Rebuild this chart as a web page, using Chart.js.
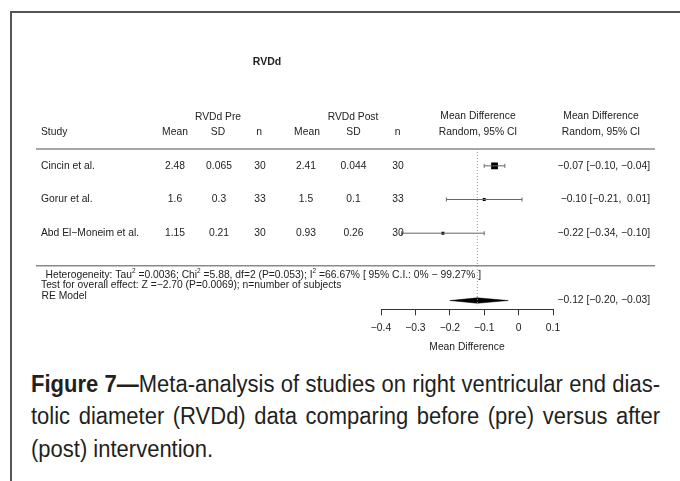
<!DOCTYPE html>
<html>
<head>
<meta charset="utf-8">
<script src="https://cdn.jsdelivr.net/npm/chart.js@4.4.1/dist/chart.umd.min.js"></script>
<style>
  html, body { margin: 0; padding: 0; background: #fff; width: 680px; height: 481px; overflow: hidden; }
  #frame { position: absolute; left: 10px; top: 11px; width: 700px; height: 500px;
           border-top: 2px solid #555; border-left: 2px solid #555; }
  #wrap { position: absolute; left: 0; top: 0; width: 680px; height: 362px; }
  /* condensed caption: regular sans squeezed horizontally */
  #caption { position: absolute; left: 31px; top: 367.5px; width: 657.6px;
             transform: scaleX(0.9565); transform-origin: 0 0;
             font-family: "Liberation Sans", Arial, sans-serif;
             font-size: 23px; line-height: 32.5px; color: #231f20; }
  #caption .j { text-align: justify; text-align-last: justify; }
  #caption b { font-weight: bold; }
</style>
</head>
<body>
<div id="frame"></div>
<div id="wrap"><canvas id="forest" width="680" height="362"></canvas></div>
<div id="caption">
  <div class="j"><b>Figure 7—</b>Meta-analysis of studies on right ventricular end dias-</div>
  <div class="j">tolic diameter (RVDd) data comparing before (pre) versus after</div>
  <div>(post) intervention.</div>
</div>
<script>
// ---- study data ----
const chartTitle = 'RVDd';
const studies   = ['Cincin et al.', 'Gorur et al.', 'Abd El\u2212Moneim et al.'];
const preMean   = [2.48, 1.6, 1.15];
const preSD     = [0.065, 0.3, 0.21];
const preN      = [30, 33, 30];
const postMean  = [2.41, 1.5, 0.93];
const postSD    = [0.044, 0.1, 0.26];
const postN     = [30, 33, 30];
const meanDiff  = [-0.07, -0.10, -0.22];
const ciLow     = [-0.10, -0.21, -0.34];
const ciHigh    = [-0.04, 0.01, -0.10];
const rowSlot   = [5, 4, 3];

// random-effects summary
const reEst  = -0.12;
const reLow  = -0.20;
const reHigh = -0.03;
const reSlot = 1;

const xTicks = [-0.4, -0.3, -0.2, -0.1, 0, 0.1];

const heterogeneityText = [
  ['Heterogeneity: Tau', false], ['2', true], [' =0.0036; Chi', false], ['2', true],
  [' =5.88, df=2 (P=0.053); I', false], ['2', true], [' =66.67% [ 95% C.I.: 0% \u2212 99.27% ]', false]
];
const overallText = 'Test for overall effect: Z =\u22122.70 (P=0.0069); n=number of subjects';
const reLabel = 'RE Model';

// ---- styling ----
const squareRadius = [4.8, 2.1, 2.1];
const FONT = '"Liberation Sans", Arial, Helvetica, sans-serif';
const INK = '#222';

const minus = s => s.replace(/-/g, '\u2212');
const fmt2 = v => (v < 0 ? '\u2212' : ' ') + Math.abs(v).toFixed(2);
const ciText = (m, lo, hi) => `${fmt2(m).trim()} [${fmt2(lo)}, ${fmt2(hi)}]`;

// ---- datasets ----
const datasets = [];

// dotted reference line at the summary estimate
datasets.push({
  type: 'line',
  data: [{ x: reEst, y: 5.5 }, { x: reEst, y: 0.85 }],
  borderColor: '#9a9a9a', borderWidth: 1, borderDash: [1, 2],
  pointRadius: 0, fill: false
});

// confidence intervals with end caps
studies.forEach((s, i) => {
  datasets.push({
    type: 'line',
    data: [{ x: ciLow[i], y: rowSlot[i] }, { x: ciHigh[i], y: rowSlot[i] }],
    borderColor: '#666', borderWidth: 1,
    pointStyle: 'line', pointRotation: 90, pointRadius: 2,
    pointBorderColor: '#666', pointBorderWidth: 1,
    fill: false
  });
});

// point estimates
datasets.push({
  type: 'scatter',
  data: meanDiff.map((m, i) => ({ x: m, y: rowSlot[i] })),
  pointStyle: 'rect', pointRadius: squareRadius,
  backgroundColor: '#000', borderColor: '#000', borderWidth: 0
});

// summary diamond
const dh = 0.08;
datasets.push({
  type: 'line',
  data: [
    { x: reLow, y: reSlot }, { x: reEst, y: reSlot + dh },
    { x: reHigh, y: reSlot }, { x: reEst, y: reSlot - dh }, { x: reLow, y: reSlot }
  ],
  borderColor: '#000', borderWidth: 0.5, backgroundColor: '#000',
  fill: 'shape', pointRadius: 0, tension: 0
});

// ---- table text around the plot ----
const tablePlugin = {
  id: 'forestTable',
  afterDraw(chart) {
    const { ctx, scales: { x, y } } = chart;
    const f = (size, bold) => `${bold ? 'bold ' : ''}${size}px ${FONT}`;
    ctx.save();
    ctx.fillStyle = INK;
    ctx.textBaseline = 'middle';

    // title
    ctx.textAlign = 'center';
    ctx.font = f(10.5, true);
    ctx.fillText(chartTitle, 267, 62);

    // column headers
    ctx.font = f(10.3);
    ctx.fillText('RVDd Pre', 218, 117);
    ctx.fillText('RVDd Post', 353, 117);
    ctx.fillText('Mean Difference', 478, 116);
    ctx.fillText('Mean Difference', 601, 116);
    ctx.fillText('Mean', 175, 132.5);
    ctx.fillText('SD', 218, 132.5);
    ctx.fillText('n', 259, 132.5);
    ctx.fillText('Mean', 307, 132.5);
    ctx.fillText('SD', 353.5, 132.5);
    ctx.fillText('n', 397.5, 132.5);
    ctx.fillText('Random, 95% CI', 478, 132);
    ctx.fillText('Random, 95% CI', 601, 132);
    ctx.textAlign = 'left';
    ctx.fillText('Study', 41, 132);

    // rules
    ctx.strokeStyle = '#8a8a8a';
    ctx.lineWidth = 1.5;
    const ruleTop = y.getPixelForValue(5.5);
    const ruleBot = y.getPixelForValue(2.03);
    [ruleTop, ruleBot].forEach(py => {
      ctx.beginPath(); ctx.moveTo(36, py); ctx.lineTo(655, py); ctx.stroke();
    });

    // study rows
    studies.forEach((s, i) => {
      const py = y.getPixelForValue(rowSlot[i]);
      ctx.textAlign = 'left';
      ctx.fillText(s, 41, py);
      ctx.textAlign = 'center';
      ctx.fillText(String(preMean[i]), 175, py);
      ctx.fillText(String(preSD[i]), 219, py);
      ctx.fillText(String(preN[i]), 260, py);
      ctx.fillText(String(postMean[i]), 306, py);
      ctx.fillText(String(postSD[i]), 353.5, py);
      ctx.fillText(String(postN[i]), 398, py);
      ctx.textAlign = 'right';
      ctx.fillText(ciText(meanDiff[i], ciLow[i], ciHigh[i]), 650, py);
    });

    // heterogeneity line with superscripts
    ctx.textAlign = 'left';
    let hx = 45.5;
    const hy = 275;
    heterogeneityText.forEach(([t, sup]) => {
      ctx.font = sup ? f(6.5) : f(10.3);
      ctx.fillText(t, hx, sup ? hy - 4 : hy);
      hx += ctx.measureText(t).width;
    });
    ctx.font = f(10.3);
    ctx.fillText(overallText, 41, 285.5);
    ctx.fillText(reLabel, 41.5, 296);

    // summary estimate text
    ctx.textAlign = 'right';
    ctx.fillText(ciText(reEst, reLow, reHigh), 650, y.getPixelForValue(reSlot));
    ctx.restore();
  }
};

new Chart(document.getElementById('forest'), {
  data: { datasets },
  plugins: [tablePlugin],
  options: {
    responsive: false,
    devicePixelRatio: 1,
    animation: false,
    events: [],
    layout: { padding: { left: 381, right: 127, top: 149, bottom: 4.7 } },
    plugins: { legend: { display: false }, tooltip: { enabled: false } },
    scales: {
      x: {
        type: 'linear', position: 'bottom',
        min: -0.4, max: 0.1,
        afterBuildTicks: scale => { scale.ticks = xTicks.map(v => ({ value: v })); },
        afterFit: scale => { scale.height = 48; },
        border: { display: true, color: '#333', width: 1 },
        grid: { drawOnChartArea: false, drawTicks: true, tickLength: 6, color: '#333', tickWidth: 1 },
        ticks: {
          color: INK, font: { family: FONT, size: 10.3 }, padding: 7, maxRotation: 0,
          callback: v => (v === 0 ? '0' : minus(String(Math.round(v * 10) / 10)))
        },
        title: { display: true, text: 'Mean Difference', color: INK,
                 font: { family: FONT, size: 10.3 }, padding: { top: 4, bottom: 4 } }
      },
      y: { type: 'linear', min: 0.74, max: 5.5, display: false }
    }
  }
});
</script>
</body>
</html>
